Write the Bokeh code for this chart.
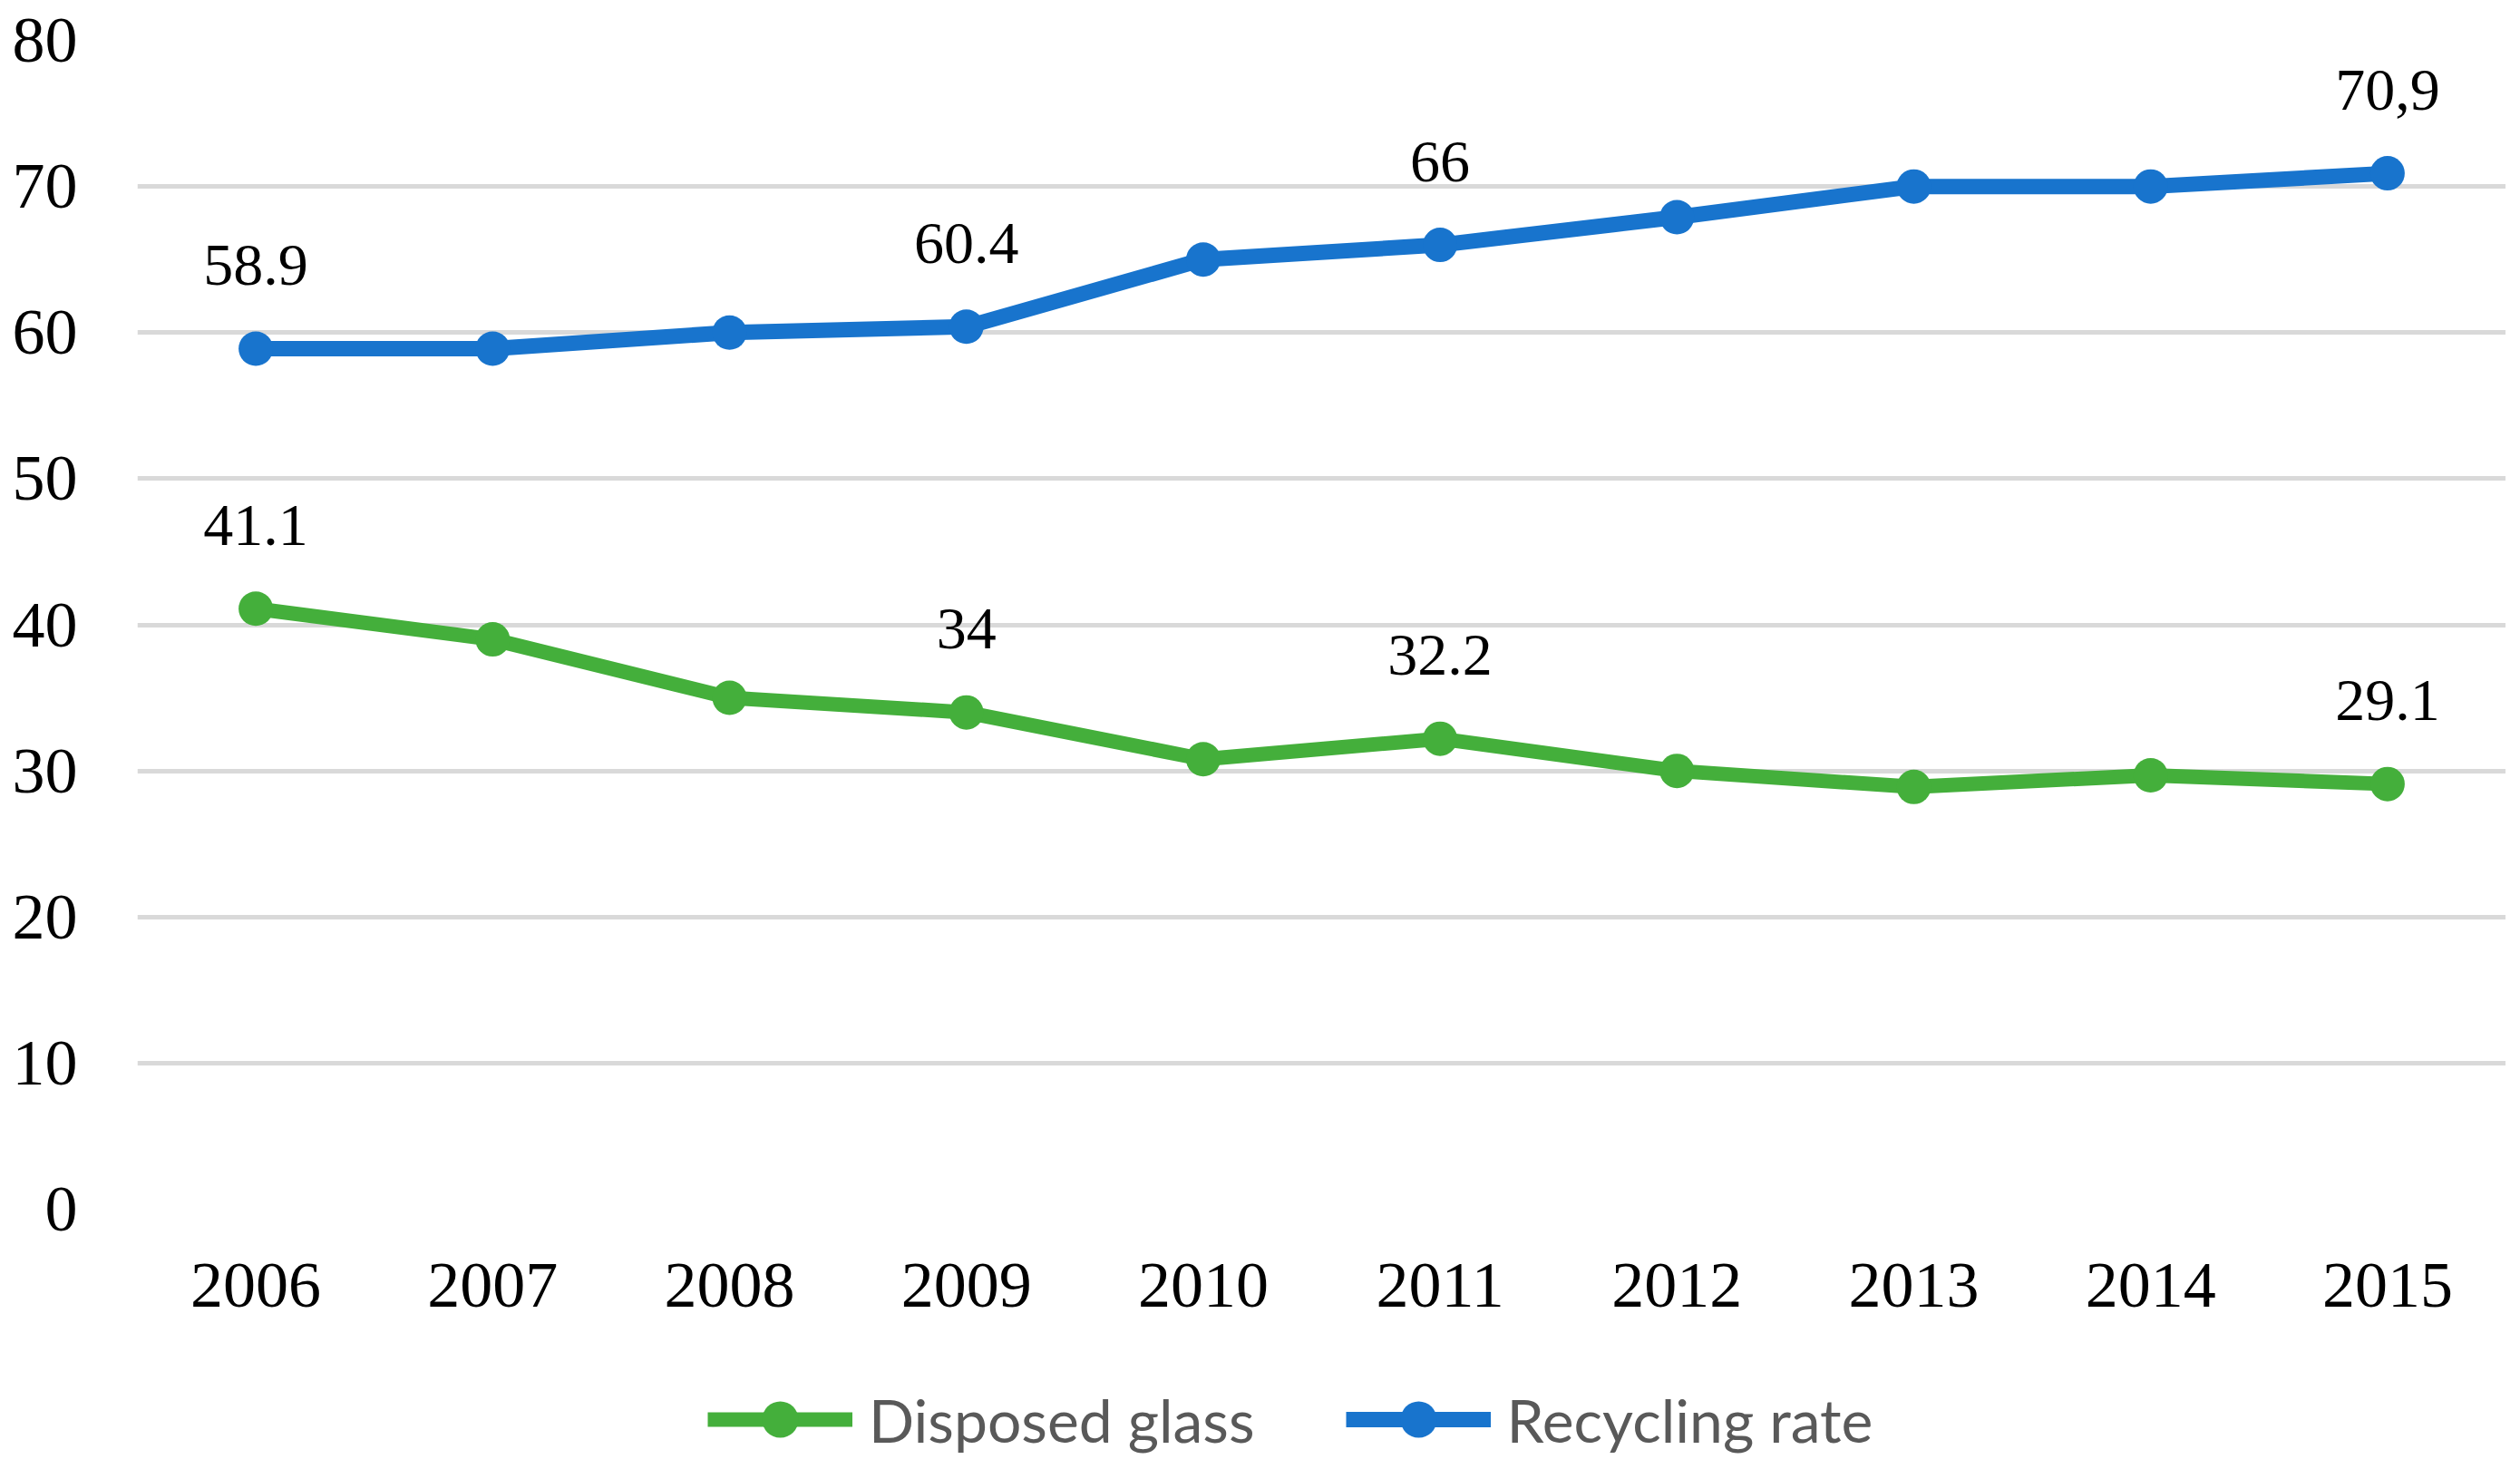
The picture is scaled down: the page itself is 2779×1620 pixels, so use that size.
from bokeh.plotting import figure
from bokeh.layouts import column
from bokeh.models import ColumnDataSource, Range1d, FactorRange, Legend, LegendItem
from bokeh.core.properties import value
from bokeh.embed import file_html
from bokeh.resources import INLINE

years = ["2006", "2007", "2008", "2009", "2010", "2011", "2012", "2013", "2014", "2015"]
recycling = [58.9, 58.9, 60.0, 60.4, 65.0, 66.0, 67.9, 70.0, 70.0, 70.9]
disposed = [41.1, 39.0, 35.0, 34.0, 30.8, 32.2, 30.0, 28.9, 29.7, 29.1]

rec_label_years = ["2006", "2009", "2011", "2015"]
rec_label_values = [58.9, 60.4, 66.0, 70.9]
rec_label_texts = ["58.9", "60.4", "66", "70,9"]

dis_label_years = ["2006", "2009", "2011", "2015"]
dis_label_values = [41.1, 34.0, 32.2, 29.1]
dis_label_texts = ["41.1", "34", "32.2", "29.1"]

y_ticks = [0, 10, 20, 30, 40, 50, 60, 70, 80]
series_names = ["Disposed glass", "Recycling rate"]

BLUE = "#1874CD"
GREEN = "#44AF3B"
SERIF = "Liberation Serif"
W = 2763
H_TOP = 1493
H_LEG = 111

# ---------------- main chart ----------------
p = figure(x_range=FactorRange(*years), y_range=Range1d(0, 80),
           width=W, height=H_TOP, output_backend="svg", toolbar_location=None,
           title=None, min_border_left=151, min_border_right=0,
           min_border_top=44, min_border_bottom=H_TOP - 1333)
p.outline_line_color = None
p.background_fill_color = "white"
p.border_fill_color = "white"

p.xgrid.grid_line_color = None
p.ygrid.grid_line_color = "#d9d9d9"
p.ygrid.grid_line_width = 5
p.yaxis.ticker = y_ticks

for ax in (p.xaxis, p.yaxis):
    ax.axis_line_color = None
    ax.major_tick_line_color = None
    ax.minor_tick_line_color = None
    ax.major_tick_in = 0
    ax.major_tick_out = 0
    ax.minor_tick_in = 0
    ax.minor_tick_out = 0
    ax.major_label_text_font = SERIF
    ax.major_label_text_font_size = "72px"
    ax.major_label_text_color = "black"
p.yaxis.major_label_standoff = 66
p.xaxis.major_label_standoff = 60

src_d = ColumnDataSource(dict(year=years, val=disposed))
src_r = ColumnDataSource(dict(year=years, val=recycling))

p.line("year", "val", source=src_d, line_color=GREEN, line_width=16, line_join="round")
p.scatter("year", "val", source=src_d, size=38, fill_color=GREEN, line_color=None)
p.line("year", "val", source=src_r, line_color=BLUE, line_width=17, line_join="round")
p.scatter("year", "val", source=src_r, size=38, fill_color=BLUE, line_color=None)

lab_r = ColumnDataSource(dict(year=rec_label_years, val=rec_label_values, txt=rec_label_texts))
lab_d = ColumnDataSource(dict(year=dis_label_years, val=dis_label_values, txt=dis_label_texts))
for src in (lab_r, lab_d):
    p.text("year", "val", text="txt", source=src, text_font=value(SERIF),
           text_font_size="66px", text_color="black", text_align="center",
           text_baseline="middle", y_offset=-92)

# ---------------- legend strip ----------------
q = figure(x_range=FactorRange(*years), y_range=Range1d(0, 80),
           width=W, height=H_LEG, output_backend="svg", toolbar_location=None,
           title=None, x_axis_location=None, y_axis_location=None,
           min_border=0)
q.outline_line_color = None
q.xgrid.grid_line_color = None
q.ygrid.grid_line_color = None
q.background_fill_color = "white"
q.border_fill_color = "white"

ql1 = q.line("year", "val", source=src_d, line_color=GREEN, line_width=16, visible=False)
qs1 = q.scatter("year", "val", source=src_d, size=38, fill_color=GREEN, line_color=None, visible=False)
ql2 = q.line("year", "val", source=src_r, line_color=BLUE, line_width=17, visible=False)
qs2 = q.scatter("year", "val", source=src_r, size=38, fill_color=BLUE, line_color=None, visible=False)

legend = Legend(items=[LegendItem(label=series_names[0], renderers=[ql1, qs1]),
                       LegendItem(label=series_names[1], renderers=[ql2, qs2])],
                orientation="horizontal", location=(629, -11))
legend.border_line_color = None
legend.background_fill_alpha = 0
legend.inactive_fill_alpha = 0
legend.padding = 0
legend.margin = 0
legend.spacing = 100
legend.glyph_width = 160
legend.glyph_height = 100
legend.label_height = 60
legend.label_standoff = 18
legend.label_text_font = "Lato"
legend.label_text_font_size = "66px"
legend.label_text_color = "#595959"
q.add_layout(legend, "center")

layout = column(p, q, spacing=0)
open("out.html", "w").write(file_html(layout, INLINE))
